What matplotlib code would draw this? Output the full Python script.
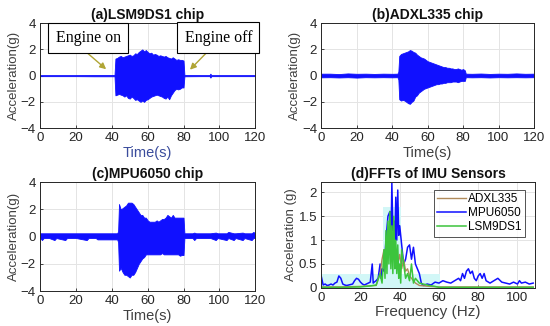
import matplotlib.pyplot as plt

plt.rcParams['font.family'] = ['Liberation Sans', 'DejaVu Sans']

BLUE = '#1010ff'
LABEL_GRAY = '#404040'

# ---------------- (a) LSM9DS1 envelope ----------------
t_a = [0, 10, 20, 30, 40, 41.5,
       42, 43, 44, 45, 46, 47, 48, 49, 50, 51, 52, 53, 54, 55, 56, 57, 58, 59, 60,
       61, 62, 63, 64, 65, 66, 67, 68, 69, 70, 71, 72, 73, 74, 75, 76, 77, 78, 79, 80,
       80.5, 90, 94.5, 95, 95.5, 110, 120]
up_a = [0.04, 0.04, 0.04, 0.05, 0.05, 0.05,
        1.3, 1.35, 1.45, 1.5, 1.4, 1.45, 1.5, 1.55, 1.6, 1.5, 1.55, 1.7, 1.65, 1.8, 1.9, 2.0, 1.85, 1.95, 1.8,
        1.7, 1.75, 1.6, 1.65, 1.6, 1.5, 1.55, 1.5, 1.45, 1.5, 1.4, 1.35, 1.3, 1.4, 1.3, 1.2, 1.25, 1.2, 1.2, 1.15,
        0.05, 0.04, 0.04, 0.15, 0.04, 0.04, 0.04]
lo_a = [-0.04, -0.04, -0.04, -0.05, -0.05, -0.05,
        -1.5, -1.45, -1.4, -1.45, -1.5, -1.6, -1.5, -1.7, -1.75, -1.6, -1.7, -1.85, -1.8, -1.9, -2.0, -1.9, -2.0, -1.85, -1.8,
        -1.7, -1.6, -1.55, -1.5, -1.45, -1.5, -1.55, -1.6, -1.7, -1.75, -1.6, -1.8, -1.5, -1.3, -1.1, -1.0, -1.05, -1.0, -0.9, -0.9,
        -0.05, -0.04, -0.04, -0.15, -0.04, -0.04, -0.04]

# ---------------- (b) ADXL335 envelope ----------------
t_b = [0, 5, 10, 15, 20, 25, 30, 35, 40, 43, 43.5,
       44, 45, 46, 47, 48, 49, 50, 51, 52, 53, 54, 55, 56, 57, 58, 59, 60, 61, 62,
       63, 64, 65, 66, 67, 68, 69, 70, 71, 72, 73, 74, 75, 76, 77, 78, 79, 80, 81,
       81.5, 85, 90, 95, 100, 105, 110, 115, 120]
up_b = [0.15, 0.15, 0.12, 0.17, 0.14, 0.15, 0.13, 0.15, 0.14, 0.15, 0.3,
        1.5, 1.65, 1.7, 1.75, 1.8, 1.85, 1.95, 1.9, 1.8, 1.75, 1.6, 1.5, 1.4, 1.35, 1.3, 1.2, 1.1, 1.05, 1.0,
        0.95, 0.9, 0.85, 0.8, 0.75, 0.7, 0.65, 0.65, 0.6, 0.6, 0.55, 0.55, 0.5, 0.5, 0.55, 0.5, 0.45, 0.5, 0.4,
        0.15, 0.14, 0.16, 0.13, 0.15, 0.14, 0.17, 0.14, 0.15]
lo_b = [-0.13, -0.12, -0.14, -0.12, -0.15, -0.12, -0.13, -0.12, -0.13, -0.12, -0.3,
        -1.8, -1.9, -1.85, -1.9, -2.0, -2.1, -2.15, -2.0, -1.9, -1.6, -1.5, -1.3, -1.2, -1.1, -1.0, -0.95, -0.9, -0.85, -0.8,
        -0.75, -0.7, -0.65, -0.65, -0.6, -0.6, -0.55, -0.55, -0.5, -0.5, -0.5, -0.45, -0.45, -0.45, -0.5, -0.45, -0.4, -0.4, -0.4,
        -0.12, -0.13, -0.12, -0.14, -0.12, -0.13, -0.12, -0.13, -0.12]

# ---------------- (c) MPU6050 envelope ----------------
t_c = [0, 1, 2, 5, 8, 9, 14, 15, 20, 26, 27, 31, 32, 38, 43, 43.5,
       44, 45, 46, 47, 48, 49, 50, 51, 52, 53, 54, 55, 56, 57, 58, 59, 60, 61, 62,
       63, 64, 65, 66, 67, 68, 69, 70, 71, 72, 73, 74, 75, 76, 77, 78, 79, 80,
       80.5, 85, 86, 87, 95, 98, 99, 104, 105, 108, 109, 113, 114, 118, 119, 120]
up_c = [0.25, 0.25, 0.25, 0.25, 0.25, 0.25, 0.25, 0.25, 0.25, 0.25, 0.25, 0.25, 0.25, 0.25, 0.25, 0.4,
        2.4, 2.0, 2.1, 2.2, 2.3, 2.5, 2.5, 2.5, 2.4, 2.2, 2.0, 1.8, 1.6, 1.6, 1.4, 1.4, 1.2, 1.1, 1.1,
        1.1, 1.1, 1.2, 1.1, 1.2, 1.3, 1.3, 1.4, 1.6, 1.5, 1.4, 1.6, 1.4, 1.4, 1.4, 1.4, 1.4, 1.4,
        0.25, 0.25, 0.3, 0.25, 0.25, 0.3, 0.25, 0.25, 0.35, 0.25, 0.25, 0.3, 0.25, 0.25, 0.35, 0.25]
lo_c = [-0.1, -0.25, -0.1, -0.1, -0.25, -0.1, -0.25, -0.1, -0.1, -0.25, -0.1, -0.1, -0.2, -0.2, -0.2, -0.4,
        -2.5, -2.3, -2.6, -2.8, -2.8, -2.9, -3.0, -2.8, -2.8, -2.6, -2.3, -2.0, -1.8, -1.6, -1.5, -1.3, -1.3, -1.3, -1.3,
        -1.3, -1.3, -1.3, -1.3, -1.3, -1.2, -1.3, -1.3, -1.3, -1.3, -1.3, -1.3, -1.3, -1.3, -1.3, -1.4, -1.35, -1.35,
        -0.1, -0.1, -0.25, -0.1, -0.1, -0.25, -0.1, -0.25, -0.1, -0.25, -0.1, -0.25, -0.1, -0.25, -0.1, -0.1]

# ---------------- (d) FFT spectra ----------------
f_mpu = [0, 1, 2, 3, 4, 5, 6, 7, 8, 9, 10, 11, 12, 13, 14, 15, 16, 17, 18, 19, 20, 21, 22, 23, 24, 25,
         26, 26.5, 27, 28, 29, 30, 30.5, 31, 32, 33, 34, 35, 35.5, 36, 36.5, 37, 37.5, 38, 38.5, 39, 39.5,
         40, 41, 42, 43, 44, 45, 46, 47, 48, 49, 50, 51, 52, 54, 56, 58, 60, 62, 64, 66, 68, 70,
         71, 72, 73, 74, 75, 76, 77, 78, 79, 80, 81, 82, 83, 84, 86, 88, 90, 92, 94, 96, 98, 100,
         101, 102, 104, 106, 108]
a_mpu = [0.25, 0.06, 0.08, 0.05, 0.06, 0.08, 0.06, 0.1, 0.12, 0.25, 0.2, 0.08, 0.06, 0.05, 0.06, 0.07, 0.08, 0.15, 0.2, 0.18, 0.12, 0.08, 0.06, 0.08, 0.1, 0.12,
         0.5, 0.1, 0.12, 0.15, 0.2, 0.5, 0.2, 0.4, 0.35, 1.0, 1.5, 1.6, 0.8, 2.2, 1.2, 1.4, 0.9, 1.9, 1.0, 2.05, 1.1,
         1.3, 0.9, 0.5, 0.6, 0.85, 0.9, 0.6, 0.85, 0.5, 0.4, 0.3, 0.1, 0.05, 0.08, 0.06, 0.12, 0.1, 0.15, 0.12, 0.1, 0.15, 0.2,
         0.15, 0.3, 0.2, 0.35, 0.4, 0.3, 0.35, 0.2, 0.15, 0.25, 0.3, 0.2, 0.3, 0.15, 0.1, 0.15, 0.2, 0.12, 0.1, 0.08, 0.12, 0.08,
         0.15, 0.1, 0.12, 0.08, 0.1]
f_adxl = [0, 10, 20, 28, 30, 31, 32, 33, 34, 35, 36, 37, 38, 39, 40, 41, 42, 43, 44, 45, 46, 48, 50, 55, 60, 108]
a_adxl = [0.02, 0.02, 0.03, 0.05, 0.3, 0.6, 0.8, 0.5, 1.2, 0.7, 1.0, 0.6, 0.8, 0.5, 0.7, 0.4, 0.6, 0.35, 0.4,
          0.25, 0.2, 0.1, 0.05, 0.03, 0.02, 0.02]
f_lsm = [0, 10, 20, 25, 28, 30, 31, 32, 32.5, 33, 33.5, 34, 34.5, 35, 35.5, 36, 36.5, 37, 37.5, 38, 38.5,
         39, 39.5, 40, 40.5, 41, 42, 43, 44, 45, 46, 47, 48, 50, 52, 55, 58, 60, 108]
a_lsm = [0.01, 0.01, 0.02, 0.04, 0.06, 0.3, 0.1, 0.8, 0.2, 1.2, 0.3, 1.4, 0.5, 1.6, 0.4, 1.3, 0.3, 1.5, 0.4,
         1.0, 0.3, 0.9, 0.2, 0.5, 0.1, 0.8, 0.5, 0.2, 0.3, 0.15, 0.5, 0.1, 0.2, 0.1, 0.08, 0.05, 0.03, 0.01, 0.01]
f_shade = [0, 31, 31.5, 40, 40.5, 60, 60.5, 108]
a_shade = [0.3, 0.3, 1.7, 1.7, 0.3, 0.3, 0.0, 0.0]


def style_axes(ax):
    ax.grid(True, color='#e4e4e4', linewidth=0.7)
    ax.set_axisbelow(True)
    ax.tick_params(direction='in', labelsize=9.5, colors='#262626', length=2.5, width=0.6,
                   top=False, right=False, pad=3)
    for s in ax.spines.values():
        s.set_color('#262626')
        s.set_linewidth(0.7)


def time_panel(ax, t, up, lo, title, xlabel_color=LABEL_GRAY):
    ax.fill_between(t, lo, up, color=BLUE, linewidth=0.6, edgecolor=BLUE)
    ax.set_xlim(0, 120)
    ax.set_ylim(-4, 4)
    ax.set_xticks([0, 20, 40, 60, 80, 100, 120])
    ax.set_yticks([-4, -2, 0, 2, 4])
    ax.set_title(title, fontsize=10, fontweight='bold', pad=3, color='#111111')
    ax.set_xlabel('Time(s)', fontsize=10.5, color=xlabel_color, labelpad=1)
    ax.set_ylabel('Acceleration(g)', fontsize=9.5, color=LABEL_GRAY, labelpad=1)
    style_axes(ax)


fig = plt.figure(figsize=(5.5, 3.26), dpi=100)
ax_a = fig.add_axes([0.073, 0.607, 0.391, 0.322])
ax_b = fig.add_axes([0.584, 0.607, 0.387, 0.322])
ax_c = fig.add_axes([0.073, 0.107, 0.391, 0.334])
ax_d = fig.add_axes([0.584, 0.117, 0.389, 0.325])

time_panel(ax_a, t_a, up_a, lo_a, '(a)LSM9DS1 chip', xlabel_color='#3a4c9c')
time_panel(ax_b, t_b, up_b, lo_b, '(b)ADXL335 chip')
time_panel(ax_c, t_c, up_c, lo_c, '(c)MPU6050 chip')

# annotations in panel (a)
box = dict(boxstyle='square,pad=0.45', facecolor='white', edgecolor='black', linewidth=0.8)
arrow = dict(arrowstyle='-|>', color='#b0a535', linewidth=1.0, mutation_scale=9)
ax_a.annotate('', xy=(38, 0.35), xytext=(24, 2.0), arrowprops=arrow)
ax_a.annotate('', xy=(82.5, 0.3), xytext=(95, 2.05), arrowprops=arrow)
ax_a.text(26.8, 2.85, 'Engine on', family='Liberation Serif', fontsize=11.5, ha='center', va='center',
          bbox=box, zorder=5)
ax_a.text(99.5, 2.9, 'Engine off', family='Liberation Serif', fontsize=11.5, ha='center', va='center',
          bbox=box, zorder=5, clip_on=False)

# panel (d)
ax_d.fill_between(f_shade, 0, a_shade, color='#d2f7f7', linewidth=0, step='post')
ax_d.plot(f_mpu, a_mpu, color=BLUE, linewidth=1.1, label='MPU6050')
ax_d.plot(f_adxl, a_adxl, color='#b08a5a', linewidth=1.0, label='ADXL335')
ax_d.plot(f_lsm, a_lsm, color='#3cc43c', linewidth=1.1, label='LSM9DS1')
ax_d.set_xlim(0, 109)
ax_d.set_ylim(0, 2.22)
ax_d.set_xticks([0, 20, 40, 60, 80, 100])
ax_d.set_yticks([0, 0.5, 1, 1.5, 2])
ax_d.set_yticklabels(['0', '0.5', '1', '1.5', '2'])
ax_d.set_title('(d)FFTs of IMU Sensors', fontsize=10, fontweight='bold', pad=3, color='#111111')
ax_d.set_xlabel('Frequency (Hz)', fontsize=11, color=LABEL_GRAY, labelpad=1)
ax_d.set_ylabel('Acceleration (g)', fontsize=9.5, color=LABEL_GRAY, labelpad=1)
style_axes(ax_d)
handles, labels = ax_d.get_legend_handles_labels()
order = [1, 0, 2]
leg = ax_d.legend([handles[i] for i in order], [labels[i] for i in order], loc='upper right',
                  fontsize=8.5, frameon=True, fancybox=False, handlelength=2.4, handletextpad=0.2,
                  borderpad=0.3, labelspacing=0.15, borderaxespad=0.5, bbox_to_anchor=(0.98, 0.98))
leg.get_frame().set_edgecolor('#262626')
leg.get_frame().set_linewidth(0.7)

fig.savefig('out.png', dpi=100)
